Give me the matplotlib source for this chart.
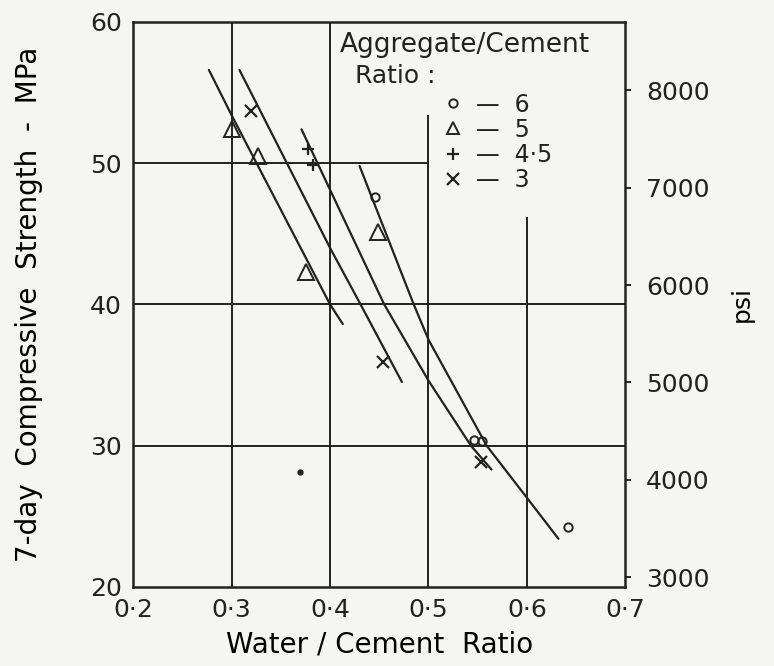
import matplotlib.pyplot as plt
from matplotlib.lines import Line2D

# 7-day compressive strength (MPa) against water/cement ratio,
# one hand-fitted curve per aggregate/cement ratio
curve_6_wc = [0.430, 0.485, 0.500, 0.559, 0.600, 0.632]
curve_6_mpa = [49.8, 40.0, 37.5, 30.0, 26.3, 23.4]
curve_5_wc = [0.277, 0.300, 0.400, 0.413]
curve_5_mpa = [56.6, 53.4, 40.0, 38.6]
curve_45_wc = [0.371, 0.455, 0.500, 0.543, 0.564]
curve_45_mpa = [52.4, 40.0, 34.6, 30.0, 28.3]
curve_3_wc = [0.308, 0.400, 0.431, 0.473]
curve_3_mpa = [56.6, 44.0, 40.0, 34.5]

# test results
pts_6_wc = [0.446, 0.546, 0.554, 0.642]
pts_6_mpa = [47.6, 30.4, 30.3, 24.2]
pts_5_wc = [0.300, 0.327, 0.376, 0.449]
pts_5_mpa = [52.4, 50.5, 42.3, 45.1]
pts_45_wc = [0.378, 0.383]
pts_45_mpa = [51.0, 49.9]
pts_3_wc = [0.320, 0.454, 0.553]
pts_3_mpa = [53.7, 35.9, 28.8]
dot_wc = [0.370]
dot_mpa = [28.1]

x_ticks = [0.2, 0.3, 0.4, 0.5, 0.6, 0.7]
x_labels = ['0·2', '0·3', '0·4', '0·5', '0·6', '0·7']
y_ticks = [20, 30, 40, 50, 60]
psi_ticks = [3000, 4000, 5000, 6000, 7000, 8000]
MPA_TO_PSI = 145.038

ink = '#222222'
paper = '#f5f5f3'

plt.rcParams['font.family'] = 'DejaVu Sans'
plt.rcParams['text.color'] = ink

fig = plt.figure(figsize=(7.74, 6.66), dpi=100, facecolor=paper)
ax = fig.add_axes([0.172, 0.119, 0.636, 0.848])
ax.set_facecolor(paper)
ax.set_xlim(0.2, 0.7)
ax.set_ylim(20, 60)

# grid: some lines stop short of the key
lw_grid = 1.4
ax.vlines([0.3, 0.4], 20, 60, color=ink, lw=lw_grid)
ax.vlines(0.5, 20, 53.4, color=ink, lw=lw_grid)
ax.vlines(0.6, 20, 46.2, color=ink, lw=lw_grid)
ax.hlines([30, 40], 0.2, 0.7, color=ink, lw=lw_grid)
ax.hlines(50, 0.2, 0.5, color=ink, lw=lw_grid)

# curves
for wc, mpa in [(curve_6_wc, curve_6_mpa), (curve_5_wc, curve_5_mpa),
                (curve_45_wc, curve_45_mpa), (curve_3_wc, curve_3_mpa)]:
    ax.plot(wc, mpa, color=ink, lw=1.6, solid_capstyle='round',
            solid_joinstyle='round')

# points
ax.plot(pts_6_wc, pts_6_mpa, 'o', ms=6, mfc='none', mec=ink, mew=1.4)
ax.plot(pts_5_wc, pts_5_mpa, '^', ms=11, mfc='none', mec=ink, mew=1.4)
ax.plot(pts_45_wc, pts_45_mpa, '+', ms=9, mec=ink, mew=1.6)
ax.plot(pts_3_wc, pts_3_mpa, 'x', ms=8, mec=ink, mew=1.6)
ax.plot(dot_wc, dot_mpa, 'o', ms=3.5, color=ink)

for s in ax.spines.values():
    s.set_color(ink)
    s.set_linewidth(1.8)

ax.set_xticks(x_ticks, x_labels)
ax.set_yticks(y_ticks)
ax.tick_params(length=0, labelsize=18, colors=ink, pad=8)
ax.set_xlabel('Water / Cement  Ratio', fontsize=20, labelpad=6)
ax.set_ylabel('7-day  Compressive  Strength  -  MPa', fontsize=20, labelpad=34)

# psi scale on the right
ax2 = ax.twinx()
ax2.set_ylim(20 * MPA_TO_PSI, 60 * MPA_TO_PSI)
ax2.set_yticks(psi_ticks)
ax2.tick_params(length=4, width=1.4, colors=ink, labelsize=18, pad=11)
ax2.set_ylabel('psi', fontsize=18, labelpad=14)
for s in ax2.spines.values():
    s.set_visible(False)

# key
ax.text(0.42, 0.96, 'Aggregate/Cement', transform=ax.transAxes, fontsize=19,
        va='center', ha='left')
ax.text(0.45, 0.905, 'Ratio :', transform=ax.transAxes, fontsize=18,
        va='center', ha='left')
handles = [
    Line2D([], [], ls='none', marker='o', ms=6, mfc='none', mec=ink, mew=1.4),
    Line2D([], [], ls='none', marker='^', ms=9, mfc='none', mec=ink, mew=1.4),
    Line2D([], [], ls='none', marker='+', ms=9, mec=ink, mew=1.6),
    Line2D([], [], ls='none', marker='x', ms=8, mec=ink, mew=1.6),
]
labels = ['—  6', '—  5', '—  4·5', '—  3']
ax.legend(handles, labels, loc='upper left', bbox_to_anchor=(0.625, 0.875),
          frameon=False, fontsize=17, handlelength=1.0, handletextpad=0.5,
          labelspacing=0.05, borderpad=0, borderaxespad=0)

fig.savefig('out.png', dpi=100, facecolor=paper)
